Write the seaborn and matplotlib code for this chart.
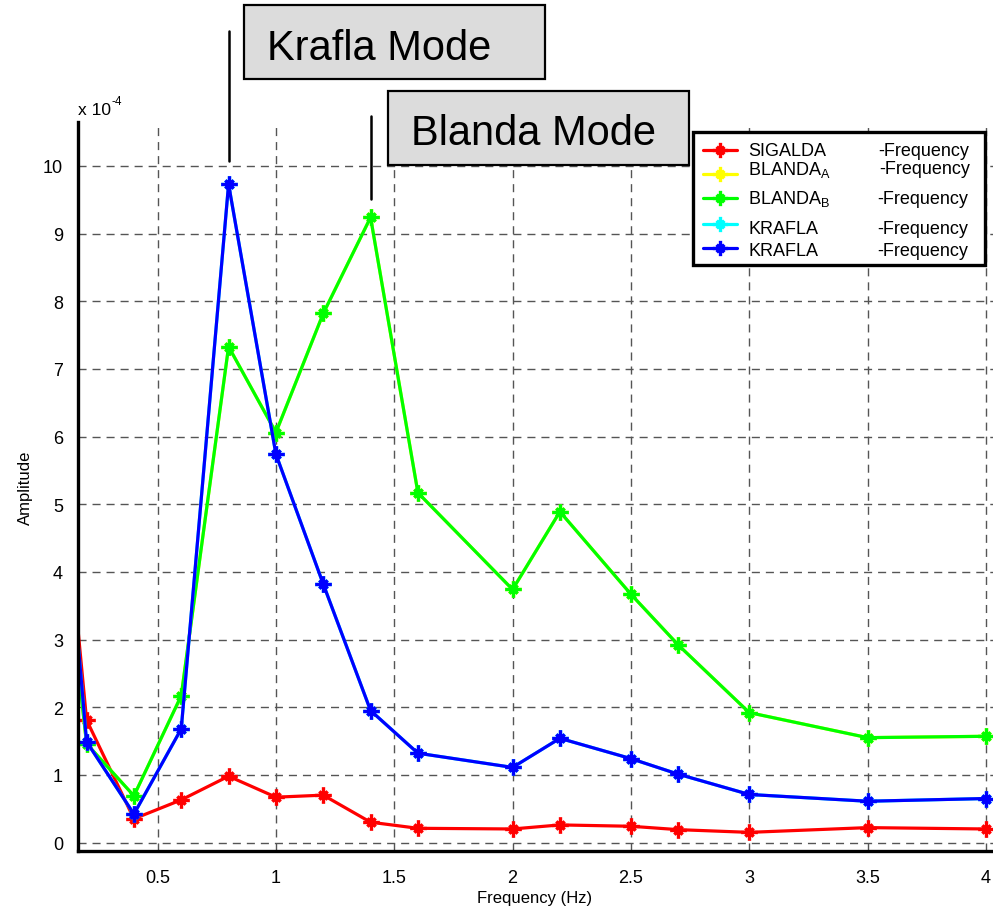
import numpy as np
import pandas as pd
import matplotlib
matplotlib.use("Agg")
import matplotlib.pyplot as plt
from matplotlib.patches import Rectangle
from matplotlib.lines import Line2D
from matplotlib.path import Path
import seaborn as sns

# ---- data (amplitude in units of 1e-4) ----
freq = [0.1, 0.2, 0.4, 0.6, 0.8, 1.0, 1.2, 1.4, 1.6, 2.0, 2.2, 2.5, 2.7, 3.0, 3.5, 4.0]
sigalda = [5.50, 1.81, 0.35, 0.63, 0.98, 0.67, 0.70, 0.30, 0.21, 0.20, 0.26, 0.24, 0.19, 0.15, 0.22, 0.20]
blanda_a = [4.62, 1.46, 0.69, 2.17, 7.33, 6.06, 7.82, 9.24, 5.17, 3.74, 4.89, 3.67, 2.92, 1.92, 1.55, 1.57]
blanda_b = [4.62, 1.46, 0.69, 2.17, 7.33, 6.06, 7.82, 9.24, 5.17, 3.74, 4.89, 3.67, 2.92, 1.92, 1.55, 1.57]
krafla_a = [5.55, 1.49, 0.42, 1.68, 9.73, 5.74, 3.82, 1.95, 1.32, 1.11, 1.54, 1.24, 1.01, 0.71, 0.61, 0.65]
krafla_b = [5.55, 1.49, 0.42, 1.68, 9.73, 5.74, 3.82, 1.95, 1.32, 1.11, 1.54, 1.24, 1.01, 0.71, 0.61, 0.65]

series_names = ["SIGALDA", "BLANDA_A", "BLANDA_B", "KRAFLA_1", "KRAFLA_2"]
series_labels = ["SIGALDA", r"BLANDA$_\mathregular{A}$", r"BLANDA$_\mathregular{B}$", "KRAFLA", "KRAFLA"]
series_colors = ["#ff0000", "#ffff00", "#00ff00", "#00ffff", "#0000ff"]
series_values = [sigalda, blanda_a, blanda_b, krafla_a, krafla_b]

xtick_values = [0.5, 1, 1.5, 2, 2.5, 3, 3.5, 4]
xtick_labels = ["0.5", "1", "1.5", "2", "2.5", "3", "3.5", "4"]
ytick_values = list(range(0, 11))

df = pd.DataFrame({
    "Frequency": np.tile(freq, len(series_names)),
    "Amplitude": np.concatenate(series_values),
    "series": np.repeat(series_names, len(freq)),
})

sns.set_theme(style="white")
plt.rcParams["font.family"] = ["Liberation Sans", "DejaVu Sans"]
plt.rcParams["mathtext.fontset"] = "custom"
plt.rcParams["mathtext.rm"] = "Liberation Sans"
plt.rcParams["mathtext.it"] = "Liberation Sans"
plt.rcParams["text.color"] = "black"
plt.rcParams["axes.labelcolor"] = "black"
plt.rcParams["xtick.color"] = "black"
plt.rcParams["ytick.color"] = "black"

W, H = 993, 912
fig = plt.figure(figsize=(W / 100, H / 100), dpi=100)
fig.patch.set_facecolor("white")


def fx(x):
    return x / W


def fy(y):
    return 1 - y / H


ax_l, ax_r, ax_t, ax_b = 78.3, 993.0, 123.0, 852.3
ax = fig.add_axes([fx(ax_l), fy(ax_b), (ax_r - ax_l) / W, (ax_b - ax_t) / H])
ax.set_facecolor("white")

# asterisk-like marker: a plus with short diagonals
star = Path(
    [(-1, 0), (1, 0), (0, -1), (0, 1), (-.5, -.5), (.5, .5), (-.5, .5), (.5, -.5)],
    [Path.MOVETO, Path.LINETO] * 4,
)

for name, color in zip(series_names, series_colors):
    sub = df[df["series"] == name]
    sns.lineplot(data=sub, x="Frequency", y="Amplitude", ax=ax, color=color,
                 sort=False, estimator=None, linewidth=2.3,
                 marker=star, markersize=12, markeredgewidth=2.4,
                 markeredgecolor=color, markerfacecolor=color, legend=False)

ax.set_xlim(0.165, 4.03)
ax.set_ylim(-0.13, 10.65)
ax.set_xticks(xtick_values)
ax.set_xticklabels(xtick_labels)
ax.set_yticks(ytick_values)
ax.set_yticklabels([str(v) for v in ytick_values])

ax.grid(True, linestyle=(0, (5.8, 4.3)), color="#555555", linewidth=1.0)
ax.set_axisbelow(True)
for side in ["top", "right"]:
    ax.spines[side].set_visible(False)
for side in ["left", "bottom"]:
    ax.spines[side].set_linewidth(2.4)
    ax.spines[side].set_color("black")
ax.tick_params(axis="both", direction="out", length=7, width=2.2, color="black",
               labelsize=13, labelcolor="black")
ax.tick_params(axis="y", pad=4)
ax.tick_params(axis="x", pad=6)

ax.set_xlabel("Frequency (Hz)", fontsize=12, color="black")
ax.set_ylabel("Amplitude", fontsize=12, color="black")
ax.xaxis.set_label_coords((535 - ax_l) / (ax_r - ax_l), -(891 - ax_b) / (ax_b - ax_t))
ax.yaxis.set_label_coords(-(ax_l - 33) / (ax_r - ax_l), 0.5)

# scale factor note above the y axis
fig.text(fx(78), fy(115), "x 10", fontsize=12.5, va="baseline", ha="left")
fig.text(fx(111), fy(105), "-4", fontsize=8.5, va="baseline", ha="left")

# mode markers: vertical ticks above the peaks
krafla_peak = freq[int(np.argmax(krafla_b))]
blanda_peak = freq[int(np.argmax(blanda_b))]
ax.plot([krafla_peak, krafla_peak], [10.07, 12.0], color="black", lw=1.8, clip_on=False)
ax.plot([blanda_peak, blanda_peak], [9.51, 10.74], color="black", lw=1.8, clip_on=False)


def label_box(x0, y0, x1, y1, text, tx, ty):
    fig.add_artist(Rectangle((fx(x0), fy(y1)), (x1 - x0) / W, (y1 - y0) / H,
                             transform=fig.transFigure, facecolor="#dcdcdc",
                             edgecolor="black", linewidth=1.6, zorder=5))
    fig.text(fx(tx), fy(ty), text, fontsize=30, va="baseline", ha="left",
             color="black", zorder=6)


label_box(244.3, 6, 545, 80, "Krafla Mode", 266.7, 59.5)
label_box(388.3, 92, 689.3, 165.7, "Blanda Mode", 410.7, 145)

# legend drawn as a framed key
fig.add_artist(Rectangle((fx(693.3), fy(266)), (985 - 693.3) / W, (266 - 133.3) / H,
                         transform=fig.transFigure, facecolor="white",
                         edgecolor="black", linewidth=2.4, zorder=7))
handle_y = [150.7, 175.0, 199.3, 225.0, 249.3]
label_base = [155.7, 175.0, 204.0, 234.0, 256.0]
suffix_base = [155.7, 174.3, 204.0, 234.0, 255.7]
suffix_x = [878.3, 879.0, 877.3, 877.3, 877.3]
for lab, color, hy, lb, sb, sx in zip(series_labels, series_colors, handle_y,
                                      label_base, suffix_base, suffix_x):
    fig.add_artist(Line2D([fx(703.3), fx(736.7)], [fy(hy), fy(hy)],
                          transform=fig.transFigure, color=color, lw=2.3, zorder=8))
    fig.add_artist(Line2D([fx(720)], [fy(hy)], transform=fig.transFigure,
                          marker=star, markersize=11, markeredgewidth=2.4,
                          color=color, zorder=8))
    fig.text(fx(748.3), fy(lb), lab, fontsize=13, va="baseline", ha="left",
             color="black", zorder=9)
    fig.text(fx(sx), fy(sb), "-Frequency", fontsize=13, va="baseline", ha="left",
             color="black", zorder=9)

fig.savefig("out.png", dpi=100, facecolor="white")
